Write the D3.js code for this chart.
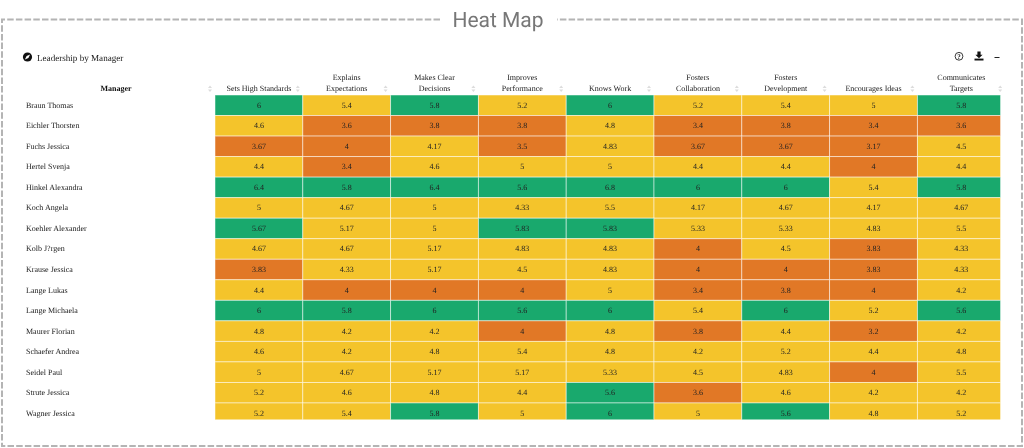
<!DOCTYPE html>
<html><head><meta charset="utf-8">
<script src="https://cdn.jsdelivr.net/npm/d3@7"></script>
<style>html,body{margin:0;padding:0;background:#fff}svg{display:block;filter:blur(0.35px)}
text{font-family:"Liberation Serif",serif;text-rendering:geometricPrecision}</style></head>
<body><svg id="c" width="1024" height="448"></svg>
<script>
const chartTitle = "Heat Map";
const subTitle = "Leadership by Manager";
const managerHeader = "Manager";
const managers = ["Braun Thomas","Eichler Thorsten","Fuchs Jessica","Hertel Svenja","Hinkel Alexandra","Koch Angela","Koehler Alexander","Kolb J?rgen","Krause Jessica","Lange Lukas","Lange Michaela","Maurer Florian","Schaefer Andrea","Seidel Paul","Strute Jessica","Wagner Jessica"];
const measures = [["Sets High Standards"],["Explains","Expectations"],["Makes Clear","Decisions"],["Improves","Performance"],["Knows Work"],["Fosters","Collaboration"],["Fosters","Development"],["Encourages Ideas"],["Communicates","Targets"]];
const scores = [
[6,5.4,5.8,5.2,6,5.2,5.4,5,5.8],
[4.6,3.6,3.8,3.8,4.8,3.4,3.8,3.4,3.6],
[3.67,4,4.17,3.5,4.83,3.67,3.67,3.17,4.5],
[4.4,3.4,4.6,5,5,4.4,4.4,4,4.4],
[6.4,5.8,6.4,5.6,6.8,6,6,5.4,5.8],
[5,4.67,5,4.33,5.5,4.17,4.67,4.17,4.67],
[5.67,5.17,5,5.83,5.83,5.33,5.33,4.83,5.5],
[4.67,4.67,5.17,4.83,4.83,4,4.5,3.83,4.33],
[3.83,4.33,5.17,4.5,4.83,4,4,3.83,4.33],
[4.4,4,4,4,5,3.4,3.8,4,4.2],
[6,5.8,6,5.6,6,5.4,6,5.2,5.6],
[4.8,4.2,4.2,4,4.8,3.8,4.4,3.2,4.2],
[4.6,4.2,4.8,5.4,4.8,4.2,5.2,4.4,4.8],
[5,4.67,5.17,5.17,5.33,4.5,4.83,4,5.5],
[5.2,4.6,4.8,4.4,5.6,3.6,4.6,4.2,4.2],
[5.2,5.4,5.8,5,6,5,5.6,4.8,5.2]];
const thresholds = [4.01,5.55];
const palette = ["#e17826","#f4c42b","#19a96d"];

const svg = d3.select("#c");
const color = d3.scaleThreshold().domain(thresholds).range(palette);
const x = d3.scaleBand().domain(d3.range(measures.length)).range([215,1005.2]);
const y = d3.scaleBand().domain(managers).range([95,423.5]);

// dashed frame
svg.append("path").attr("fill","none").attr("stroke","#b4b4b4").attr("stroke-width",2).attr("stroke-dasharray","6.5 2.2")
  .attr("d","M440,19.5H2V446H1022V19.5H557");

svg.append("text").attr("x",498).attr("y",27).attr("text-anchor","middle")
  .style("font-family","Roboto,sans-serif").attr("font-size",21).attr("fill","#777").text(chartTitle);

svg.append("text").attr("x",37).attr("y",60.5).attr("font-size",9.1).attr("fill","#222").text(subTitle);

// compass icon
const ic = svg.append("g").attr("transform","translate(27.5,57)");
ic.append("circle").attr("r",4.6).attr("fill","#111");
ic.append("path").attr("d","M2.6,-2.6L0.9,0.9L-2.6,2.6L-0.9,-0.9Z").attr("fill","#fff");
// help icon
const hp = svg.append("g").attr("transform","translate(959,56.3)");
hp.append("circle").attr("r",3.9).attr("fill","none").attr("stroke","#222").attr("stroke-width",0.9);
hp.append("text").attr("text-anchor","middle").attr("y",2.4).attr("font-size",7).attr("font-weight","bold").attr("fill","#222").text("?");
// download icon
const dl = svg.append("g").attr("transform","translate(979,56)").attr("fill","#111");
dl.append("path").attr("d","M-1.6,-4.5H1.6V-1.2H3.6L0,2.2L-3.6,-1.2H-1.6Z");
dl.append("path").attr("d","M-4.5,2.6H4.5V4.5H-4.5Z");
// minimise icon
svg.append("path").attr("d","M994.5,57.5H999.5").attr("stroke","#222").attr("stroke-width",1);

// header
svg.append("text").attr("x",116).attr("y",91).attr("text-anchor","middle").attr("font-size",8).attr("font-weight","bold").attr("fill","#111").text(managerHeader);
const sortAt = [210].concat(measures.map((m,i)=>x(i)+x.bandwidth()-5));
const sort = svg.append("g").attr("fill","#dcdcdc");
sortAt.forEach(sx=>{
  sort.append("path").attr("d",`M${sx-2},88L${sx},85.5L${sx+2},88Z`);
  sort.append("path").attr("d",`M${sx-2},89.5L${sx},92L${sx+2},89.5Z`);
});
const hdr = svg.append("g").attr("font-size",8).attr("fill","#222").attr("text-anchor","middle");
measures.forEach((lines,i)=>{
  lines.forEach((t,k)=>{
    hdr.append("text").attr("x",x(i)+x.bandwidth()/2).attr("y",91-(lines.length-1-k)*11.5).text(t);
  });
});

// clip: table is cut at its right and bottom edges
svg.append("clipPath").attr("id","tbl").append("rect").attr("x",215).attr("y",95).attr("width",785.3).attr("height",324.6);

const rows = svg.append("g").selectAll("g").data(managers).join("g");
rows.append("text").attr("x",26).attr("y",m=>y(m)+y.bandwidth()/2+2.5).attr("font-size",8).attr("fill","#222").text(m=>m);

const cells = rows.selectAll("g").data((m,r)=>scores[r].map((v,c)=>({m,c,v}))).join("g");
cells.append("rect").attr("clip-path","url(#tbl)")
  .attr("x",d=>x(d.c)).attr("y",d=>y(d.m)).attr("width",x.bandwidth()).attr("height",y.bandwidth())
  .attr("fill",d=>color(d.v)).attr("stroke","#fff").attr("stroke-opacity",0.55).attr("stroke-width",0.9);
cells.append("text").attr("x",d=>x(d.c)+x.bandwidth()/2).attr("y",d=>y(d.m)+y.bandwidth()/2+2.5)
  .attr("text-anchor","middle").attr("font-size",8).attr("fill","#222").text(d=>d.v);
</script></body></html>
